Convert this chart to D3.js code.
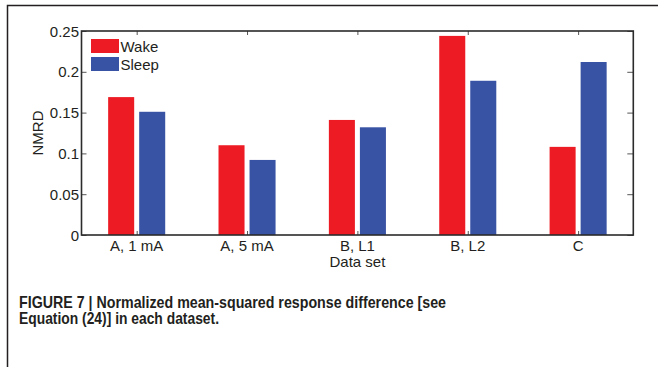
<!DOCTYPE html>
<html>
<head>
<meta charset="utf-8">
<script src="https://cdn.jsdelivr.net/npm/d3@7/dist/d3.min.js"></script>
<style>
  html, body { margin: 0; padding: 0; background: #fff; }
  svg { display: block; }
  text { fill: #231f20; }
</style>
</head>
<body>
<svg id="chart" width="658" height="367"></svg>
<script>
// NMRD per data set, awake vs. asleep
const categories = ["A, 1 mA", "A, 5 mA", "B, L1", "B, L2", "C"];
const seriesNames = ["Wake", "Sleep"];
const wakeValues = [0.169, 0.110, 0.141, 0.244, 0.108];
const sleepValues = [0.151, 0.092, 0.132, 0.189, 0.212];
const yTicks = [0, 0.05, 0.1, 0.15, 0.2, 0.25];
const yTickLabels = ["0", "0.05", "0.1", "0.15", "0.2", "0.25"];
const seriesColors = ["#ed1c24", "#3953a4"];
const captionLines = [
  "FIGURE 7 | Normalized mean-squared response difference [see",
  "Equation (24)] in each dataset."
];
const captionWidths = [427, 200];

const svg = d3.select("#chart");
const font = "'Liberation Sans', Arial, Helvetica, sans-serif";
const axisColor = "#2b2b2b";

// outer figure frame (only its top-left corner lies on the page)
svg.append("path")
  .attr("d", "M7.5,367 V5.5 H658")
  .attr("fill", "none").attr("stroke", "#231f20").attr("stroke-width", 1.5);

const plot = { left: 81.5, right: 633.3, top: 31, bottom: 235 };

const y = d3.scaleLinear().domain([0, 0.25]).range([plot.bottom, plot.top]);
const x0 = d3.scaleBand().domain(categories)
  .range([plot.left, plot.right]).paddingInner(0.483).paddingOuter(0.2415);
const x1 = d3.scaleBand().domain(seriesNames)
  .range([0, x0.bandwidth()]).paddingInner(0.161).paddingOuter(0);
const color = d3.scaleOrdinal().domain(seriesNames).range(seriesColors);

const rows = categories.map((c, i) => ({
  cat: c,
  vals: [{ s: "Wake", v: wakeValues[i] }, { s: "Sleep", v: sleepValues[i] }]
}));

// bars
svg.append("g").selectAll("g").data(rows).join("g")
  .attr("transform", d => `translate(${x0(d.cat)},0)`)
  .selectAll("rect").data(d => d.vals).join("rect")
  .attr("x", d => x1(d.s))
  .attr("width", x1.bandwidth())
  .attr("y", d => y(d.v))
  .attr("height", d => y(0) - y(d.v))
  .attr("fill", d => color(d.s));

const xc = c => x0(c) + x0.bandwidth() / 2;
const xCenter = d3.scalePoint().domain(categories)
  .range([xc(categories[0]), xc(categories[categories.length - 1])]);

// axes: ticks point into the plot box
const leftAxis = d3.axisRight(y).tickValues(yTicks).tickSize(5).tickFormat("");
const rightAxis = d3.axisLeft(y).tickValues(yTicks).tickSize(6).tickFormat("");
const bottomAxis = d3.axisTop(xCenter).tickSize(4).tickFormat("");
const topAxis = d3.axisBottom(xCenter).tickSize(4).tickFormat("");

function styleAxis(g) {
  g.select(".domain").remove();
  g.selectAll(".tick line").attr("stroke", "#555").attr("stroke-width", 1);
}
svg.append("g").attr("transform", `translate(${plot.left},0)`).call(leftAxis).call(styleAxis);
svg.append("g").attr("transform", `translate(${plot.right},0)`).call(rightAxis).call(styleAxis);
svg.append("g").attr("transform", `translate(0,${plot.bottom})`).call(bottomAxis).call(styleAxis);
svg.append("g").attr("transform", `translate(0,${plot.top})`).call(topAxis).call(styleAxis);

svg.append("rect")
  .attr("x", plot.left).attr("y", plot.top)
  .attr("width", plot.right - plot.left).attr("height", plot.bottom - plot.top)
  .attr("fill", "none").attr("stroke", axisColor).attr("stroke-width", 1.6);

// y tick labels
svg.append("g").selectAll("text").data(yTicks).join("text")
  .attr("x", plot.left - 2.5)
  .attr("y", d => y(d) + 5.5)
  .attr("text-anchor", "end")
  .style("font-family", font).style("font-size", "15px")
  .text((d, i) => yTickLabels[i]);

// category labels
svg.append("g").selectAll("text").data(categories).join("text")
  .attr("x", d => xCenter(d))
  .attr("y", 251)
  .attr("text-anchor", "middle")
  .style("font-family", font).style("font-size", "15px")
  .text(d => d);

// axis titles
svg.append("text")
  .attr("x", (plot.left + plot.right) / 2).attr("y", 267)
  .attr("text-anchor", "middle")
  .style("font-family", font).style("font-size", "15px")
  .text("Data set");

svg.append("text")
  .attr("transform", `translate(43,${(plot.top + plot.bottom) / 2}) rotate(-90)`)
  .attr("text-anchor", "middle")
  .style("font-family", font).style("font-size", "15px")
  .text("NMRD");

// legend
const legend = svg.append("g").selectAll("g").data(seriesNames).join("g")
  .attr("transform", (d, i) => `translate(91,${39 + i * 18})`);
legend.append("rect").attr("width", 28).attr("height", 14).attr("fill", d => color(d));
legend.append("text")
  .attr("x", 29.5).attr("y", 12.5)
  .style("font-family", font).style("font-size", "15px")
  .text(d => d);

// caption, set in a condensed bold face
svg.append("g").selectAll("text").data(captionLines).join("text")
  .attr("x", 19)
  .attr("y", (d, i) => 307.5 + i * 16.5)
  .attr("textLength", (d, i) => captionWidths[i])
  .attr("lengthAdjust", "spacingAndGlyphs")
  .style("font-family", "'Liberation Sans Narrow', 'Arial Narrow', 'Liberation Sans', sans-serif")
  .style("font-weight", "bold")
  .style("font-size", "16.5px")
  .text(d => d);
</script>
</body>
</html>
